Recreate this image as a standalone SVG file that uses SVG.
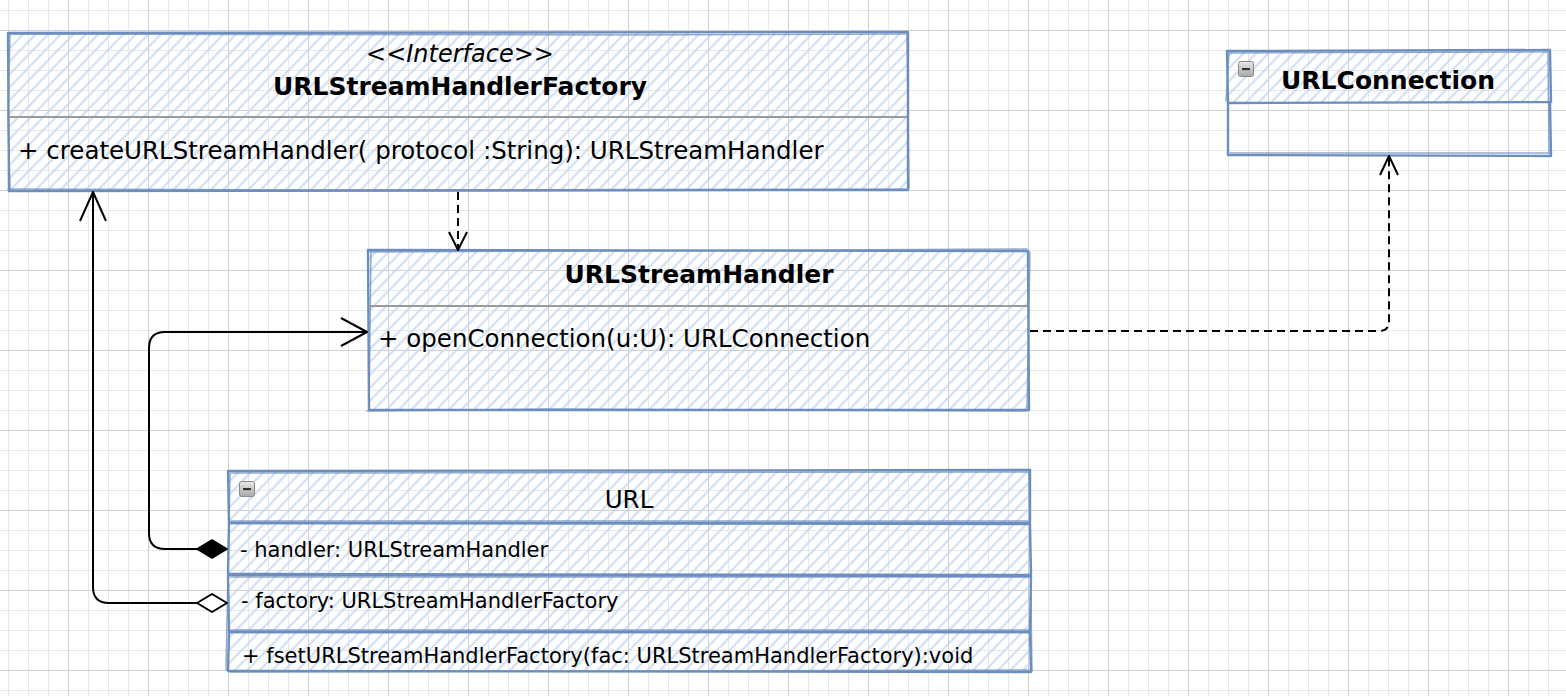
<svg xmlns="http://www.w3.org/2000/svg" width="1566" height="696" viewBox="0 0 1566 696">
<defs>
  <pattern id="gridMinor" patternUnits="userSpaceOnUse" x="8" y="10" width="20" height="20">
    <path d="M0 0.5 H20 M0.5 0 V20" fill="none" stroke="#e8e8e8" stroke-width="1"/>
  </pattern>
  <pattern id="gridMajor" patternUnits="userSpaceOnUse" x="68" y="30" width="80" height="80">
    <path d="M0 0.5 H80 M0.5 0 V80" fill="none" stroke="#d0d0d0" stroke-width="1"/>
  </pattern>
  <pattern id="hatch" patternUnits="userSpaceOnUse" width="9" height="9" patternTransform="rotate(44)">
    <line x1="4.5" y1="0" x2="4.5" y2="9" stroke="#c6d8f3" stroke-width="1.8"/>
  </pattern>
  <linearGradient id="iconGrad" x1="0" y1="0" x2="0" y2="1">
    <stop offset="0" stop-color="#e8e8e8"/>
    <stop offset="1" stop-color="#a8a8a8"/>
  </linearGradient>
  <g id="minusIcon">
    <rect x="0.5" y="0.5" width="15" height="15" rx="2" fill="url(#iconGrad)" stroke="#8a8a8a" stroke-width="1"/>
    <rect x="4" y="7" width="8" height="2.2" fill="#333"/>
  </g>
</defs>
<style>
  .hatch { fill: url(#hatch); stroke: none; }
  .edge { fill: none; stroke: #6c8ebf; stroke-width: 2.4; stroke-linejoin: round; stroke-linecap: round; }
  .edge2 { fill: none; stroke: #6c8ebf; stroke-width: 1.5; stroke-opacity: 0.75; stroke-linecap: round; }
  .sep { stroke: #9a9a9a; stroke-width: 2; fill: none; }
  .t { font-family: "DejaVu Sans", Verdana, sans-serif; fill: #000; }
  .title { font-size: 25px; font-weight: bold; }
  .reg { font-size: 24.5px; }
  .ital { font-size: 24px; font-style: italic; }
  .small { font-size: 21px; }
  .conn { fill: none; stroke: #000; stroke-width: 2; stroke-linejoin: round; }
  .dash { stroke-dasharray: 8 5; }
</style>

<rect x="0" y="0" width="1566" height="696" fill="#ffffff"/>
<rect x="0" y="0" width="1566" height="696" fill="url(#gridMinor)"/>
<rect x="0" y="0" width="1566" height="696" fill="url(#gridMajor)"/>

<g id="URLStreamHandlerFactory">
  <rect class="hatch" x="8" y="32" width="900" height="158"/>
  <path class="edge" d="M8 33 L908 32 L908 190 L9 191 Z"/>
  <path class="edge2" d="M10 34 L620 35 L906 34 M907 35 L909 188 M906 189 L300 190 L8 189 M10 189 L8 118 L10 33"/>
  <line class="sep" x1="9" y1="117" x2="907" y2="117"/>
  <text class="t ital" x="460" y="62" text-anchor="middle">&lt;&lt;Interface&gt;&gt;</text>
  <text class="t title" x="460" y="95" text-anchor="middle">URLStreamHandlerFactory</text>
  <text class="t reg" x="18" y="159">+ createURLStreamHandler( protocol :String): URLStreamHandler</text>
</g>

<g id="URLStreamHandler">
  <rect class="hatch" x="368" y="250" width="661" height="160"/>
  <path class="edge" d="M368 250 L1028 251 L1029 410 L369 410 Z"/>
  <path class="edge2" d="M370 252 L1027 249 M1030 252 L1027 408 M1026 411 L550 409 L367 411 M369 408 L371 252"/>
  <line class="sep" x1="369" y1="306" x2="1028" y2="306"/>
  <text class="t title" x="699" y="283" text-anchor="middle">URLStreamHandler</text>
  <text class="t reg" x="378" y="347">+ openConnection(u:U): URLConnection</text>
</g>

<g id="URLConnection">
  <rect class="hatch" x="1227" y="51" width="324" height="51"/>
  <path class="edge" d="M1227 51 L1550 50 L1551 102 L1228 103 Z"/>
  <path class="edge" d="M1228 103 L1228 155 L1551 156 L1550 102"/>
  <path class="edge2" d="M1229 53 L1549 52 M1548 52 L1549 154 M1549 153 L1230 153 M1226 101 L1229 53"/>
  <use href="#minusIcon" x="1238" y="61"/>
  <text class="t title" x="1388" y="89" text-anchor="middle">URLConnection</text>
</g>

<g id="URL">
  <rect class="hatch" x="228" y="471" width="802" height="201"/>
  <path class="edge" d="M228 471 L1030 470 L1030 523 L229 523 Z"/>
  <path class="edge" d="M229 523 L1030 524 L1031 575 L228 574 Z"/>
  <path class="edge" d="M228 575 L1031 576 L1030 632 L229 632 Z"/>
  <path class="edge" d="M229 632 L1030 632 L1031 672 L228 671 Z"/>
  <path class="edge2" d="M230 473 L1028 472 M1029 472 L1032 671 M1029 670 L230 672 M226 670 L230 473 M231 521 L1028 521 M230 577 L1029 577 M231 630 L1029 630"/>
  <use href="#minusIcon" x="239" y="481"/>
  <text class="t reg" x="629" y="508" text-anchor="middle">URL</text>
  <text class="t small" x="240" y="557">- handler: URLStreamHandler</text>
  <text class="t small" x="241" y="608">- factory: URLStreamHandlerFactory</text>
  <text class="t small" x="242" y="663">+ fsetURLStreamHandlerFactory(fac: URLStreamHandlerFactory):void</text>
</g>

<g id="connectors">
  <path class="conn" d="M197 549 H165 Q149 549 149 533 V348 Q149 332 165 332 H366"/>
  <polyline class="conn" points="341,318 367,332 341,346"/>
  <path d="M227 549 L212 540 L197 549 L212 558 Z" fill="#000" stroke="#000" stroke-width="1.5" stroke-linejoin="round"/>
  <path class="conn" d="M197 603 H109 Q93 603 93 587 V193"/>
  <polyline class="conn" points="80,221 93,192 106,221"/>
  <path d="M227 603 L212 594 L197 603 L212 612 Z" fill="#fff" stroke="#000" stroke-width="2" stroke-linejoin="round"/>
  <path class="conn dash" d="M458 192 V248"/>
  <polyline class="conn" points="449,232 458,250 467,232"/>
  <path class="conn dash" d="M1030 331 H1379 Q1389 331 1389 321 V158"/>
  <polyline class="conn" points="1380,175 1389,156 1398,175"/>
</g>
</svg>
